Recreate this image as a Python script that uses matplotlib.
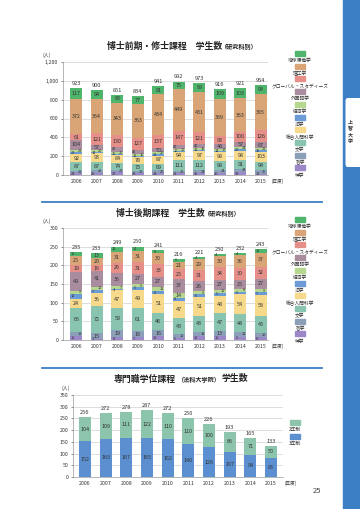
import matplotlib
matplotlib.use("Agg")
import matplotlib.pyplot as plt
from matplotlib.patches import Rectangle, FancyBboxPatch
from matplotlib.lines import Line2D
import numpy as np

plt.rcParams['font.family'] = ['Noto Sans CJK JP', 'DejaVu Sans']

W, H = 360, 509

years = ['2006', '2007', '2008', '2009', '2010', '2011', '2012', '2013', '2014', '2015']

# stacking order, bottom to top
fields = ['神学', '哲学', '文学', '総合人間科学', '法学', '経済学',
          '外国語学', 'グローバル・スタディーズ', '理工学', '地球環境学']
field_colors = ['#9c88c8', '#8c9fb8', '#88c4b0', '#f7d98c', '#6b9bd6', '#b6d88e',
                '#a98d9f', '#e58f88', '#d9a576', '#4fb56c']

# 博士前期・修士課程
m_shingaku = [24, 25, 27, 22, 24, 22, 25, 26, 31, 13]
m_tetsugaku = [22, 25, 27, 21, 26, 22, 24, 24, 34, 36]
m_bungaku = [87, 87, 74, 73, 69, 111, 112, 98, 91, 94]
m_sougou = [92, 93, 84, 78, 87, 94, 97, 98, 98, 103]
m_hougaku = [22, 14, 16, 12, 13, 10, 12, 14, 20, 16]
m_keizai = [22, 20, 20, 16, 20, 15, 16, 17, 24, 21]
m_gaikokugo = [104, 57, 47, 45, 50, 47, 46, 48, 57, 67]
m_global = [61, 121, 130, 127, 137, 147, 121, 93, 100, 126]
m_rikou = [372, 364, 343, 363, 434, 449, 431, 389, 363, 385]
m_chikyu = [117, 94, 83, 77, 81, 75, 89, 109, 103, 93]

# 博士後期課程
d_shingaku = [11, 3, 8, 7, 10, 5, 10, 11, 9, 8]
d_tetsugaku = [11, 15, 19, 18, 16, 10, 12, 13, 12, 10]
d_bungaku = [65, 72, 59, 61, 46, 43, 43, 47, 48, 45]
d_sougou = [24, 36, 47, 49, 51, 47, 51, 48, 54, 58]
d_hougaku = [12, 7, 4, 6, 8, 8, 6, 6, 6, 7]
d_keizai = [9, 10, 7, 9, 12, 14, 9, 10, 8, 9]
d_gaikokugo = [49, 41, 36, 27, 27, 37, 26, 27, 25, 27]
d_global = [19, 16, 26, 31, 33, 25, 31, 34, 30, 32]
d_rikou = [25, 20, 31, 31, 30, 21, 29, 30, 36, 37]
d_chikyu = [10, 13, 12, 11, 8, 6, 4, 4, 4, 10]

# 専門職学位課程
p_3nen = [152, 163, 167, 165, 162, 140, 126, 107, 94, 83]
p_2nen = [104, 109, 111, 122, 110, 110, 100, 86, 71, 50]
p_labels = ['3年制', '2年制']
p_colors = ['#5b8fd0', '#8cc5ab']

master = [m_shingaku, m_tetsugaku, m_bungaku, m_sougou, m_hougaku, m_keizai,
          m_gaikokugo, m_global, m_rikou, m_chikyu]
doctor = [d_shingaku, d_tetsugaku, d_bungaku, d_sougou, d_hougaku, d_keizai,
          d_gaikokugo, d_global, d_rikou, d_chikyu]

TXT = '#333333'

fig = plt.figure(figsize=(W / 100, H / 100), dpi=100)
fig.patch.set_facecolor('white')


def fx(x):
    return x / W


def fy(y):
    return 1 - y / H


def px_axes(x0, y0, x1, y1):
    return fig.add_axes([fx(x0), fy(y1), (x1 - x0) / W, (y1 - y0) / H])


def stacked(ax, series, colors, ymax, step, px_h, fmt_comma=False):
    x = np.arange(len(years))
    bottom = np.zeros(len(years))
    per_px = ymax / px_h
    small_side = np.zeros(len(years))
    for vals, c in zip(series, colors):
        vals = np.array(vals, dtype=float)
        ax.bar(x, vals, 0.59, bottom=bottom, color=c, zorder=3, linewidth=0)
        for i, (v, b) in enumerate(zip(vals, bottom)):
            h = v / per_px
            if h < 4.5:
                off = -0.17 if small_side[i] % 2 == 0 else 0.17
                small_side[i] += 1
                ax.text(i + off, b + v / 2, str(int(v)), ha='center', va='center',
                        fontsize=2.8, color=TXT, zorder=4)
            else:
                small_side[i] = 0
                ax.text(i, b + v / 2, str(int(v)), ha='center', va='center',
                        fontsize=3.9, color=TXT, zorder=4)
        bottom += vals
    for i, t in enumerate(bottom):
        ax.text(i, t + 2.2 * per_px, str(int(t)), ha='center', va='bottom',
                fontsize=4.1, color=TXT, zorder=4)
    ax.set_ylim(0, ymax)
    ax.set_xlim(-0.65, 9.35)
    ticks = np.arange(0, ymax + 1, step)
    ax.set_yticks(ticks)
    if fmt_comma:
        ax.set_yticklabels([f'{int(t):,}' for t in ticks])
    ax.set_xticks(x)
    ax.set_xticklabels(years)
    ax.tick_params(axis='both', labelsize=3.8, colors=TXT, length=1.5, width=0.4, pad=2)
    ax.tick_params(axis='x', length=0, pad=3)
    ax.yaxis.grid(True, color='#d0d0d0', linewidth=0.5, zorder=0)
    for s in ['top', 'right']:
        ax.spines[s].set_visible(False)
    for s in ['left', 'bottom']:
        ax.spines[s].set_color('#999999')
        ax.spines[s].set_linewidth(0.5)
    ax.set_facecolor('none')


def legend(x, y0, labels, colors, dy=12.7):
    for k, (lab, c) in enumerate(zip(labels, colors)):
        y = y0 + k * dy
        fig.patches.append(Rectangle((fx(x - 5), fy(y + 2.5)), 10 / W, 5 / H,
                                     transform=fig.transFigure, color=c))
        fig.text(fx(x), fy(y + 7.3), lab, ha='center', va='center',
                 fontsize=3.4, color=TXT)


# chart 1
ax1 = px_axes(63, 62, 268, 175)
stacked(ax1, master, field_colors, 1200, 200, 113, fmt_comma=True)
fig.text(fx(47), fy(55), '(人)', fontsize=3.5, color=TXT, ha='center', va='center')
fig.text(fx(272), fy(181), '(年度)', fontsize=3.3, color=TXT, ha='left', va='center')
legend(300, 53.5, fields[::-1], field_colors[::-1])

# chart 2
ax2 = px_axes(63, 228, 268, 340)
stacked(ax2, doctor, field_colors, 300, 50, 112)
fig.text(fx(47), fy(221), '(人)', fontsize=3.5, color=TXT, ha='center', va='center')
fig.text(fx(272), fy(346), '(年度)', fontsize=3.3, color=TXT, ha='left', va='center')
legend(300, 219.5, fields[::-1], field_colors[::-1])

# chart 3
ax3 = px_axes(73, 395, 283, 477)
stacked(ax3, [p_3nen, p_2nen], p_colors, 350, 50, 82)
ax3.set_xlim(-0.58, 9.58)
fig.text(fx(66), fy(388), '(人)', fontsize=3.5, color=TXT, ha='center', va='center')
fig.text(fx(285), fy(483), '(年度)', fontsize=3.3, color=TXT, ha='left', va='center')
legend(295, 422.5, p_labels[::-1], p_colors[::-1], dy=14)

# titles
fig.text(fx(222), fy(46), '博士前期・修士課程　学生数', fontsize=6.4, fontweight='bold',
         color='#222222', ha='right', va='center')
fig.text(fx(221), fy(46.5), '（研究科別）', fontsize=4.4, fontweight='bold',
         color='#222222', ha='left', va='center')
fig.text(fx(205), fy(213), '博士後期課程　学生数', fontsize=6.4, fontweight='bold',
         color='#222222', ha='right', va='center')
fig.text(fx(204), fy(213.5), '（研究科別）', fontsize=4.4, fontweight='bold',
         color='#222222', ha='left', va='center')
fig.text(fx(176), fy(379), '専門職学位課程', fontsize=6.4, fontweight='bold',
         color='#222222', ha='right', va='center')
fig.text(fx(199), fy(379.5), '（法科大学院）', fontsize=4.4, fontweight='bold',
         color='#222222', ha='center', va='center')
fig.text(fx(222), fy(379), '学生数', fontsize=6.4, fontweight='bold',
         color='#222222', ha='left', va='center')

# separators
for yy in (202, 368):
    fig.lines.append(Line2D([fx(42), fx(322)], [fy(yy), fy(yy)],
                            transform=fig.transFigure, color='#3d7fc4', linewidth=1.3))

# side strip and tab
fig.patches.append(Rectangle((fx(343), 0), 17 / W, 1, transform=fig.transFigure,
                             color='#3d7fc4'))
fig.patches.append(FancyBboxPatch((fx(345.5), fy(167)), 20 / W, 69 / H,
                                  boxstyle='round,pad=0,rounding_size=0.006',
                                  transform=fig.transFigure, facecolor='white',
                                  edgecolor='none'))
fig.text(fx(350), fy(132), '上\n智\n大\n学', fontsize=3.6, color='#333333',
         ha='center', va='center', linespacing=1.3, fontweight='bold')

fig.text(fx(317), fy(491), '25', fontsize=5.5, color='#444444', ha='center', va='center')

fig.savefig('out.png', dpi=100)
